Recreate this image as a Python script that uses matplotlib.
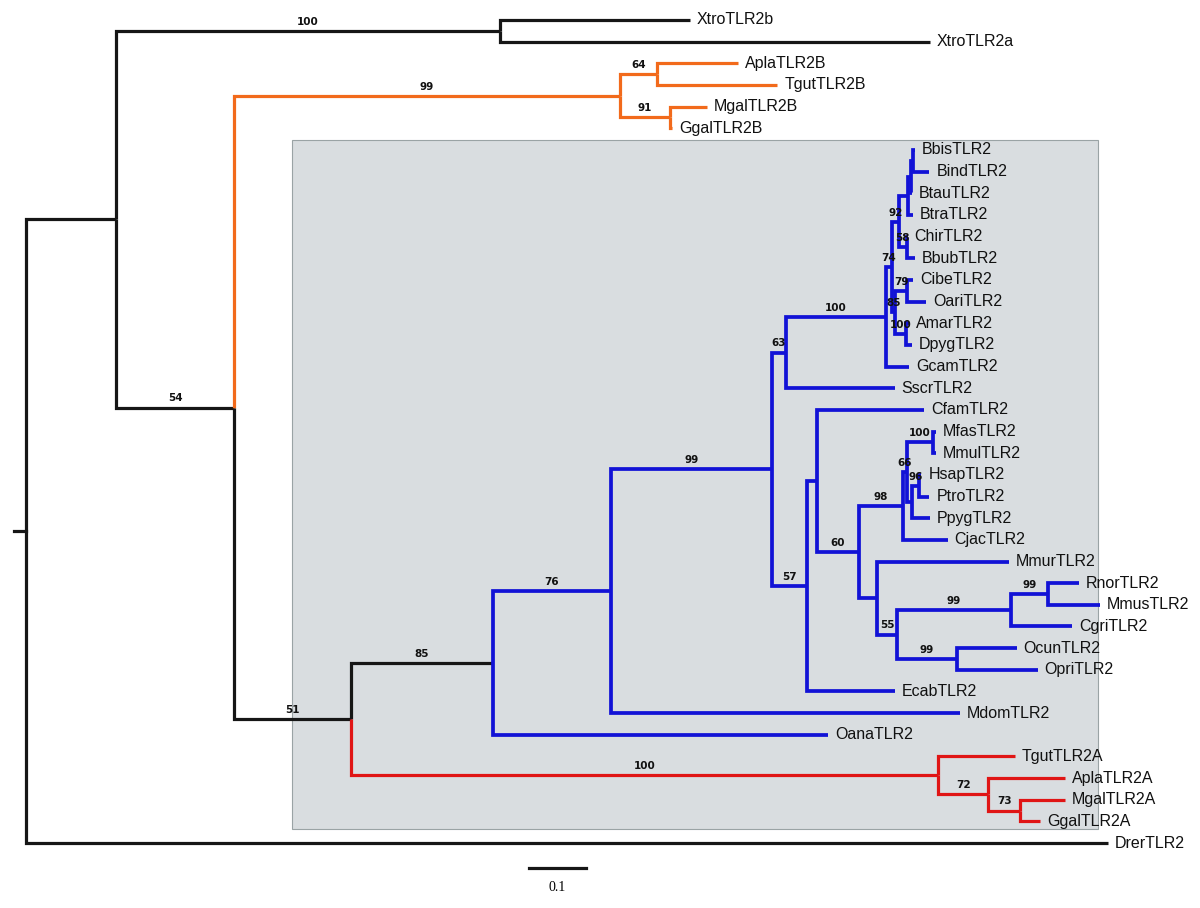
import matplotlib
matplotlib.use("Agg")
import matplotlib.pyplot as plt
from matplotlib.patches import Rectangle

# Tree (branch lengths in substitutions/site, internal labels = bootstrap support)
TREE_NEWICK = (
    "(((XtroTLR2b:0.333,XtroTLR2a:0.754)100:0.674,"
    "(((AplaTLR2B:0.142,TgutTLR2B:0.211)64:0.065,(MgalTLR2B:0.065,GgalTLR2B:0.004)91:0.088)99:0.677,"
    "(((((((((((BbisTLR2:0.002,BindTLR2:0.028):0.005,BtauTLR2:0.002):0.005,BtraTLR2:0.009):0.016,"
    "(ChirTLR2:0.002,BbubTLR2:0.014)58:0.014)92:0.011,"
    "((CibeTLR2:0.011,OariTLR2:0.033)79:0.021,(AmarTLR2:0.007,DpygTLR2:0.011)100:0.018)85:0.005)74:0.012,"
    "GcamTLR2:0.042)100:0.175,SscrTLR2:0.191)63:0.025,"
    "((CfamTLR2:0.189,"
    "((((MfasTLR2:0.005,MmulTLR2:0.005)100:0.047,((HsapTLR2:0.005,PtroTLR2:0.019)96:0.012,PpygTLR2:0.032):0.009)66:0.007,"
    "CjacTLR2:0.079)98:0.077,"
    "(MmurTLR2:0.232,(((RnorTLR2:0.054,MmusTLR2:0.091)99:0.065,CgriTLR2:0.107)99:0.200,"
    "(OcunTLR2:0.105,OpriTLR2:0.142)99:0.105)55:0.035):0.032)60:0.074):0.016,"
    "EcabTLR2:0.153)57:0.063)99:0.282,"
    "MdomTLR2:0.612)76:0.207,OanaTLR2:0.588)85:0.249,"
    "(TgutTLR2A:0.135,(AplaTLR2A:0.135,(MgalTLR2A:0.079,GgalTLR2A:0.035)73:0.056)72:0.088)100:1.030)51:0.205)54:0.207):0.158,"
    "DrerTLR2:1.898);"
)

# clades coloured from their stem down: (leaf, leaf, colour)
CLADE_COLORS = [
    ("AplaTLR2B", "GgalTLR2B", "#f26a1b"),
    ("BbisTLR2", "MdomTLR2", "#1212d6"),
    ("OanaTLR2", "OanaTLR2", "#1212d6"),
    ("TgutTLR2A", "GgalTLR2A", "#e01515"),
]
BASE_COLOR = "#161616"
SCALE_BAR = 0.1


class Node:
    def __init__(self):
        self.children = []
        self.name = ""
        self.length = 0.0
        self.parent = None
        self.x = 0.0
        self.y = 0.0
        self.color = BASE_COLOR


def parse_newick(s):
    pos = 0

    def read_label():
        nonlocal pos
        start = pos
        while pos < len(s) and s[pos] not in ",():;":
            pos += 1
        return s[start:pos]

    def read_node():
        nonlocal pos
        node = Node()
        if s[pos] == "(":
            pos += 1
            while True:
                child = read_node()
                child.parent = node
                node.children.append(child)
                if s[pos] == ",":
                    pos += 1
                    continue
                pos += 1  # ')'
                break
        node.name = read_label()
        if pos < len(s) and s[pos] == ":":
            pos += 1
            node.length = float(read_label())
        return node

    return read_node()


def walk(node):
    yield node
    for c in node.children:
        yield from walk(c)


def leaves(node):
    return [n for n in walk(node) if not n.children]


def layout(root):
    for i, leaf in enumerate(leaves(root)):
        leaf.y = i

    def place(node, x):
        node.x = x + node.length
        for c in node.children:
            place(c, node.x)
        if node.children:
            node.y = (node.children[0].y + node.children[-1].y) / 2

    root.length = 0.0
    place(root, 0.0)


def mrca(root, a, b):
    by_name = {n.name: n for n in leaves(root)}
    path = []
    n = by_name[a]
    while n is not None:
        path.append(n)
        n = n.parent
    n = by_name[b]
    while n not in path:
        n = n.parent
    return n


root = parse_newick(TREE_NEWICK)
layout(root)
for a, b, col in CLADE_COLORS:
    for n in walk(mrca(root, a, b)):
        n.color = col

fig = plt.figure(figsize=(12, 9.08), dpi=100)
ax = fig.add_axes([0, 0, 1, 1])
ax.set_xlim(-26 / 570, 1174 / 570)
ax.set_ylim((908 - 20) / 21.66, -20 / 21.66)
ax.axis("off")

# shaded box around the mammal + TLR2A clade
ax.add_patch(Rectangle((0.467, 5.54), 1.414, 31.81, facecolor="#d9dde0",
                       edgecolor="#9aa3a5", linewidth=0.8, zorder=0))

# branches
for n in walk(root):
    p = n.parent
    if p is None:
        continue
    lw = 2.7 if n.color == "#1212d6" else 2.3
    ax.plot([p.x, p.x, n.x], [p.y, n.y, n.y], color=n.color, lw=lw,
            solid_joinstyle="miter", solid_capstyle="butt", zorder=2)
    if n.children and n.name:
        ax.annotate(n.name, xy=((p.x + n.x) / 2, n.y), xytext=(0, 3),
                    textcoords="offset points", ha="center", va="bottom",
                    fontsize=7.5, fontweight="bold", color="#111111",
                    family=["Liberation Sans Narrow", "DejaVu Sans"], zorder=3)
    if not n.children:
        ax.annotate(n.name, xy=(n.x, n.y), xytext=(5, 0),
                    textcoords="offset points", ha="left", va="center",
                    fontsize=11.5, color="#111111", family="Liberation Sans", zorder=3)

# root stub
ax.plot([-0.021, 0], [root.y, root.y], color=BASE_COLOR, lw=2.3)

# scale bar
ax.plot([0.882, 0.882 + SCALE_BAR], [39.15, 39.15], color=BASE_COLOR, lw=2.3)
ax.text(0.882 + SCALE_BAR / 2, 40.05, f"{SCALE_BAR}", ha="center", va="center",
        fontsize=10, family="Liberation Serif")

fig.savefig("out.png", dpi=100)
